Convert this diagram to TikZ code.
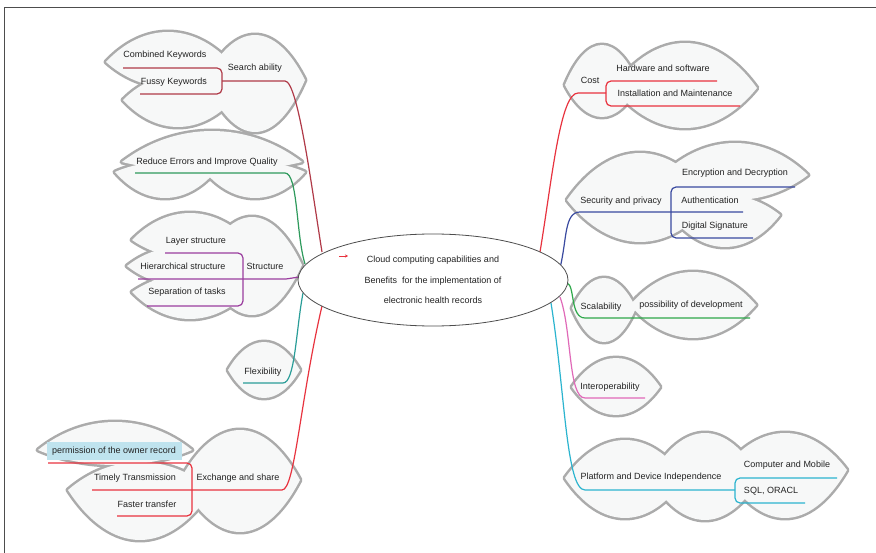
\documentclass[tikz,border=0pt]{standalone}
\usepackage{fontspec}
\setmainfont{Liberation Sans}
\usetikzlibrary{shapes.geometric,arrows.meta}
\definecolor{cDred}{HTML}{B03A48}
\definecolor{cRed}{HTML}{E8333F}
\definecolor{cGreenA}{HTML}{2E9A5C}
\definecolor{cPurple}{HTML}{9A3D9E}
\definecolor{cTeal}{HTML}{2A9D98}
\definecolor{cNavy}{HTML}{3A4AA0}
\definecolor{cGreenB}{HTML}{2EA84A}
\definecolor{cPink}{HTML}{E069B8}
\definecolor{cCyan}{HTML}{2BB4CF}
\definecolor{cCloud}{HTML}{ABABAB}
\definecolor{cFill}{HTML}{F7F8F8}
\definecolor{cHigh}{HTML}{BFE3EE}
\definecolor{cTxt}{HTML}{222222}
\definecolor{cFrame}{HTML}{4D4D4D}
\newcommand\lenspath[5]{({#1-#3},{#2}) .. controls ({#1-0.4*#3},{#2-1.333*#4}) and ({#1+0.4*#3},{#2-1.333*#4}) .. ({#1+#3},{#2}) .. controls ({#1+0.4*#3},{#2+1.333*#5}) and ({#1-0.4*#3},{#2+1.333*#5}) .. cycle}
\newcommand\mycloud[1]{%
  \foreach \a/\b/\c/\d/\e in {#1}{\draw[cloudline] \lenspath{\a}{\b}{\c}{\d}{\e};}%
  \foreach \a/\b/\c/\d/\e in {#1}{\fill[cloudfill] \lenspath{\a}{\b}{\c}{\d}{\e};}%
}
\tikzset{
  cloudline/.style={draw=cCloud, line width=5pt, line join=round},
  cloudfill/.style={fill=cFill},
  lbl/.style={font=\fontsize{9}{10}\selectfont, text=cTxt, inner sep=0pt},
  ln/.style={line width=1.2pt},
  br/.style={line width=1.2pt, rounded corners=5pt},
  hubst/.style={ellipse, draw=cFrame, line width=0.8pt, fill=white, minimum width=270pt, minimum height=92pt, inner sep=0pt, align=center, font=\fontsize{9}{20.5}\selectfont, text=cTxt},
}
\begin{document}
\begin{tikzpicture}[x=1pt,y=-1pt]
\useasboundingbox (0,0) rectangle (876,553);
\fill[white] (0,0) rectangle (876,553);
\draw[cFrame, line width=1pt] (4,553) -- (4,8) -- (876,8);

% clouds
\mycloud{168/62/62/30/25, 178/100/55/25/27, 255/80/50/45/52}
\mycloud{212/162/90/31/10, 165/172/50/10/26, 255/172/50/10/26}
\mycloud{190/240/58/27/18, 180/266/53/19/19, 190/292/58/18/27, 252/265/50/48/50}
\mycloud{264/370/36/28/28}
\mycloud{115/450/77/28/15, 140/490/72/28/50, 240/480/60/50/52}
\mycloud{602/85/37/40/32, 685/88/72/45/40}
\mycloud{640/200/73/47/42, 735/175/73/32/25, 725/215/55/20/32}
\mycloud{604/308/32/30/34, 693/305/63/33/33}
\mycloud{616/387/44/29/28}
\mycloud{625/478/60/38/40, 705/478/55/45/42, 785/470/62/37/48}

% attach points on the hub
\coordinate (hubA) at (322,252);
\coordinate (hubB) at (305,264);
\coordinate (hubC) at (299,277);
\coordinate (hubD) at (303,293);
\coordinate (hubE) at (322,306);
\coordinate (hubF) at (540,252);
\coordinate (hubG) at (560,268);
\coordinate (hubH) at (567,283);
\coordinate (hubI) at (560,297);
\coordinate (hubJ) at (551,303);

% left branches
\draw[br, cDred] (123,68) -- (222,68) -- (222,94) -- (140,94);
\draw[ln, cDred] (222,81) -- (285,81) .. controls (298,81) and (312,190) .. (hubA);
\draw[ln, cGreenA] (135,173) -- (285,173) .. controls (298,173) and (296,235) .. (hubB);
\draw[br, cPurple] (165,253) -- (243,253) -- (243,306) -- (147,306);
\draw[ln, cPurple] (138,279) -- (286,279) -- (hubC);
\draw[ln, cTeal] (243,383) -- (283,383) .. controls (295,383) and (296,330) .. (hubD);
\draw[br, cRed] (48,463) -- (192,463) -- (192,516) -- (117,516);
\draw[ln, cRed] (92,490) -- (282,490) .. controls (295,490) and (300,400) .. (hubE);

% right branches
\draw[br, cRed] (717,81) -- (606,81) -- (606,106) -- (740,106);
\draw[ln, cRed] (hubF) .. controls (552,180) and (560,93) .. (578,93) -- (606,93);
\draw[br, cNavy] (795,187) -- (671,187) -- (671,238) -- (753,238);
\draw[ln, cNavy] (hubG) .. controls (567,240) and (564,212) .. (580,212) -- (743,212);
\draw[ln, cGreenB] (hubH) .. controls (575,285) and (570,318) .. (585,318) -- (750,318);
\draw[ln, cPink] (hubI) .. controls (572,330) and (568,398) .. (585,398) -- (645,398);
\draw[br, cCyan] (837,478) -- (735,478) -- (735,503) -- (805,503);
\draw[ln, cCyan] (hubJ) .. controls (565,390) and (566,490) .. (585,490) -- (735,490);

% hub
\node[hubst] (hub) at (433,280) {Cloud computing capabilities and\\Benefits\ \ for the implementation of\\electronic health records};
\draw[cRed, line width=0.8pt, -{Stealth[length=3pt,width=3pt]}] (339,256) -- (348,256);

% labels left
\node[lbl] (ck) at (165,55) {Combined Keywords};
\node[lbl] (fk) at (174,82) {Fussy Keywords};
\node[lbl] (sa) at (255,68) {Search ability};
\node[lbl] (rq) at (207,162) {Reduce Errors and Improve Quality};
\node[lbl] (ls) at (196,241) {Layer structure};
\node[lbl] (hs) at (183,266) {Hierarchical structure};
\node[lbl] (sot) at (187,292) {Separation of tasks};
\node[lbl] (st) at (265,266) {Structure};
\node[lbl] (fl) at (263,372) {Flexibility};
\node[lbl, fill=cHigh, minimum width=135pt, minimum height=18pt] (po) at (114,451) {permission of the owner record};
\node[lbl] (tt) at (135,478) {Timely Transmission};
\node[lbl] (ft) at (147,504) {Faster transfer};
\node[lbl] (es) at (238,478) {Exchange and share};

% labels right
\node[lbl] (co) at (590,80) {Cost};
\node[lbl] (hw) at (663,68) {Hardware and software};
\node[lbl] (im) at (675,93) {Installation and Maintenance};
\node[lbl] (sp) at (621,201) {Security and privacy};
\node[lbl] (ed) at (735,173) {Encryption and Decryption};
\node[lbl] (au) at (710,200) {Authentication};
\node[lbl] (ds) at (715,226) {Digital Signature};
\node[lbl] (sc) at (601,307) {Scalability};
\node[lbl] (pd) at (691,305) {possibility of development};
\node[lbl] (io) at (610,387) {Interoperability};
\node[lbl] (pdi) at (651,477) {Platform and Device Independence};
\node[lbl] (cm) at (787,465) {Computer and Mobile};
\node[lbl] (sq) at (771,491) {SQL, ORACL};
\end{tikzpicture}
\end{document}
